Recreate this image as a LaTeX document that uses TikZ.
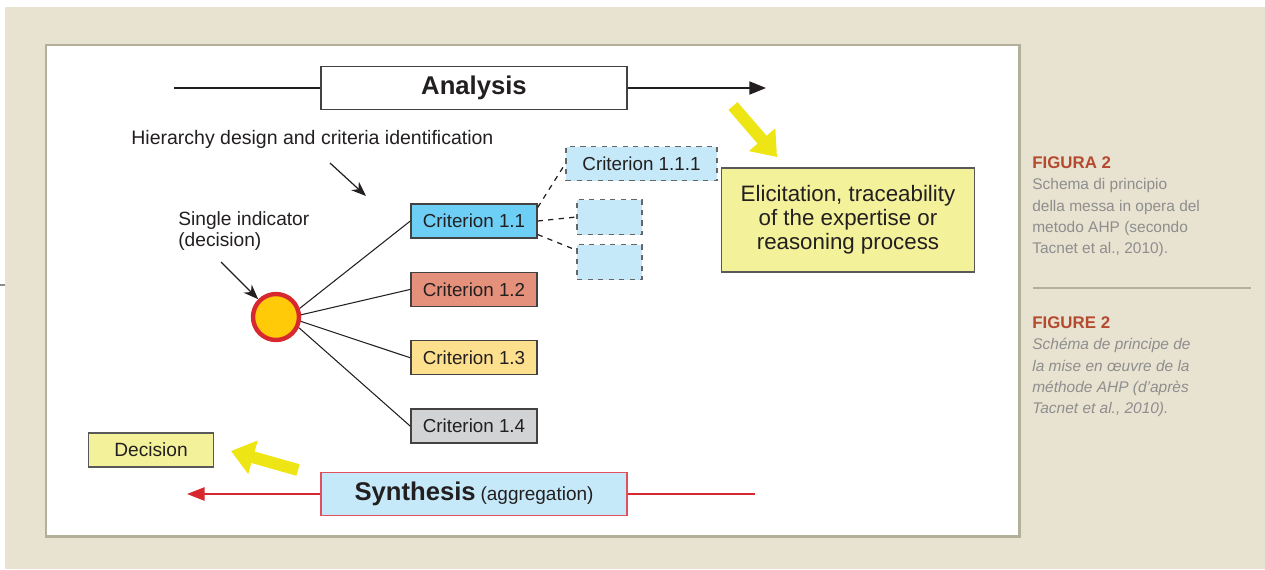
\documentclass[tikz,border=0pt]{standalone}
\usepackage{fontspec}
\setmainfont{Liberation Sans}
\usetikzlibrary{arrows.meta, positioning}
\definecolor{bgbeige}{HTML}{E8E2D0}
\definecolor{panelrim}{HTML}{B3B09A}
\definecolor{paleyel}{HTML}{F3F19A}
\definecolor{cyanbox}{HTML}{6DCFF6}
\definecolor{lightblue}{HTML}{C5E9F8}
\definecolor{salmon}{HTML}{E4907A}
\definecolor{sand}{HTML}{FDE08D}
\definecolor{greybox}{HTML}{D1D3D4}
\definecolor{gold}{HTML}{FFCB08}
\definecolor{redline}{HTML}{D7282F}
\definecolor{pinkrim}{HTML}{E0505E}
\definecolor{arryel}{HTML}{EEE614}
\definecolor{capred}{HTML}{B44A30}
\definecolor{capgrey}{HTML}{8E8E8E}
\definecolor{inkdark}{HTML}{231F20}

\begin{document}
\begin{tikzpicture}[
    x=0.02cm, y=-0.02cm,
    text=inkdark,
    crit/.style={rectangle, draw=inkdark!85, fill=#1, line width=0.8pt,
                 minimum width=2.52cm, minimum height=0.68cm, inner sep=0pt,
                 font=\fontsize{10.7}{12}\selectfont},
    subcrit/.style={rectangle, draw=black!60, fill=lightblue, dashed,
                    line width=0.7pt, minimum height=0.68cm, inner sep=0pt,
                    font=\fontsize{10.7}{12}\selectfont},
    phase/.style={rectangle, line width=0.8pt, minimum width=6.12cm,
                  minimum height=0.87cm, inner sep=0pt},
    note/.style={rectangle, draw=black!65, fill=paleyel, line width=0.8pt,
                 inner sep=0pt, align=center},
    lbl/.style={inner sep=0pt, align=left, font=\fontsize{10.9}{11.9}\selectfont},
    capt/.style={inner sep=0pt, align=left, text=capgrey,
                 font=\fontsize{8.8}{12.2}\selectfont},
    blk/.style={-{Stealth[length=8.5pt, width=6.5pt]}, line width=0.7pt, inkdark},
    yarr/.style={-{Triangle[length=13pt, width=19pt]}, line width=6.8pt, arryel},
    redarr/.style={-{Triangle[length=10pt, width=7.5pt]}, line width=1.1pt, redline},
]
% background and panel
\useasboundingbox (0,0) rectangle (1265,569);
\fill[white] (0,0) rectangle (1265,569);
\fill[bgbeige] (5,7) rectangle (1265,569);
\draw[black!45, line width=0.8pt] (0,285) -- (5,285);
\draw[panelrim, fill=white, line width=1.7pt] (46,45) rectangle (1019,536);

% analysis / synthesis bars
\node[phase, draw=inkdark!85, fill=white,
      font=\bfseries\fontsize{14.6}{16}\selectfont] (ana) at (474,88) {Analysis};
\coordinate (anaL) at (174,88);
\coordinate (anaR) at (766,88);
\draw[line width=0.8pt, inkdark] (anaL) -- (ana.west);
\draw[-{Triangle[length=9.5pt, width=7.5pt]}, line width=0.8pt, inkdark]
    (ana.east) -- (anaR);

\node[phase, draw=pinkrim, fill=lightblue] (syn) at (474,494)
    {{\bfseries\fontsize{14.6}{16}\selectfont Synthesis}
     {\fontsize{10.8}{12}\selectfont (aggregation)}};
\coordinate (synR) at (755,494);
\coordinate (synL) at (187,494);
\draw[line width=1.1pt, redline] (synR) -- (syn.east);
\draw[redarr] (syn.west) -- (synL);

% hierarchy
\node[lbl, anchor=west, font=\fontsize{11.1}{12}\selectfont] (hier) at (131,139)
    {Hierarchy design and criteria identification};
\coordinate (hierA) at (330,163);
\coordinate (hierB) at (366,196);
\draw[blk] (hierA) -- (hierB);

\node[circle, draw=redline, fill=gold, line width=2.5pt,
      minimum size=0.92cm, inner sep=0pt] (ind) at (276,317) {};
\node[lbl, anchor=west] (single) at (178,231) {Single indicator\\(decision)};
\coordinate (singA) at (221,262);
\draw[blk] (singA) -- (ind);

\node[crit=cyanbox] (c11) at (474,221) {Criterion 1.1};
\node[crit=salmon, below=0.66cm of c11] (c12) {Criterion 1.2};
\node[crit=sand, below=0.66cm of c12] (c13) {Criterion 1.3};
\node[crit=greybox, below=0.66cm of c13] (c14) {Criterion 1.4};

\draw[line width=0.6pt, inkdark] (ind.20) -- (c11.west);
\draw[line width=0.6pt, inkdark] (ind.5) -- (c12.west);
\draw[line width=0.6pt, inkdark] (ind.-10) -- (c13.west);
\draw[line width=0.6pt, inkdark] (ind.-25) -- (c14.west);

\node[subcrit, minimum width=3.02cm] (c111) at (641.5,163.5) {Criterion 1.1.1};
\node[subcrit, minimum width=1.3cm, minimum height=0.7cm] (e1) at (609.5,217) {};
\node[subcrit, minimum width=1.3cm, minimum height=0.7cm,
      below=0.18cm of e1] (e2) {};

\draw[dashed, line width=0.7pt, inkdark] (c11.12) -- (c111.west);
\draw[dashed, line width=0.7pt, inkdark] (c11.east) -- (e1.west);
\draw[dashed, line width=0.7pt, inkdark] (c11.-12) -- (e2.160);

% elicitation and decision
\node[note, minimum width=5.06cm, minimum height=2.08cm,
      font=\fontsize{12.7}{13.6}\selectfont] (elic) at (848,220)
    {Elicitation, traceability\\of the expertise or\\reasoning process};
\coordinate (yA) at (733,106);
\coordinate (yB) at (777,157);
\draw[yarr] (yA) -- (yB);

\node[note, minimum width=2.5cm, minimum height=0.68cm,
      font=\fontsize{10.9}{12}\selectfont] (dec) at (151,450) {Decision};
\coordinate (dA) at (298,470);
\coordinate (dB) at (231,451);
\draw[yarr] (dA) -- (dB);

% caption
\node[capt, anchor=north west] (capIT) at (1032,156)
    {{\bfseries\fontsize{9.6}{12.2}\selectfont\color{capred}FIGURA 2}\\
     Schema di principio\\della messa in opera del\\metodo AHP (secondo\\
     Tacnet et al., 2010).};
\coordinate (sepL) at (1033,288);
\coordinate (sepR) at (1251,288);
\draw[panelrim, line width=0.8pt] (sepL) -- (sepR);
\node[capt, anchor=north west] (capFR) at (1032,316)
    {{\bfseries\fontsize{9.6}{12.2}\selectfont\color{capred}FIGURE 2}\\
     \itshape Schéma de principe de\\\itshape la mise en œuvre de la\\
     \itshape méthode AHP (d’après\\\itshape Tacnet et al., 2010).};
\end{tikzpicture}
\end{document}
